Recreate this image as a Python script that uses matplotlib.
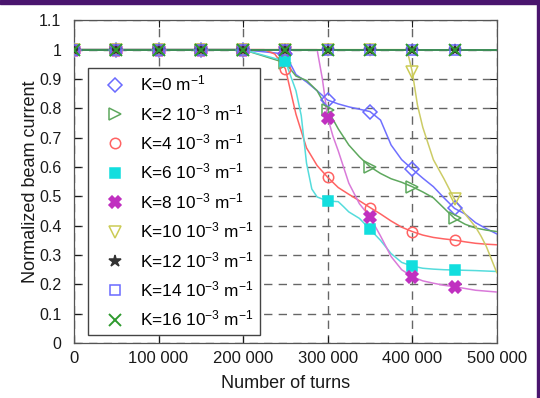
import numpy as np
import matplotlib.pyplot as plt
from matplotlib.patches import Rectangle
from matplotlib.ticker import FixedLocator, FuncFormatter

plt.rcParams['font.family'] = ['Liberation Sans', 'DejaVu Sans']
plt.rcParams['mathtext.default'] = 'regular'

# beam current vs turns for each coupling strength K
x_k0 = [0, 50000, 100000, 150000, 200000, 250000, 262500, 275000, 287500, 300000,
        312500, 325000, 337500, 350000, 362500, 375000, 387500, 400000, 412500,
        425000, 437500, 450000, 462500, 475000, 487500, 500000]
y_k0 = [1.0, 1.0, 1.0, 1.0, 1.0, 0.985, 0.915, 0.89, 0.86, 0.828,
        0.815, 0.805, 0.797, 0.789, 0.76, 0.675, 0.625, 0.593, 0.562,
        0.533, 0.495, 0.459, 0.44, 0.41, 0.39, 0.372]

x_k2 = [0, 50000, 100000, 150000, 200000, 250000, 262500, 275000, 287500, 300000,
        312500, 325000, 337500, 350000, 362500, 375000, 387500, 400000, 412500,
        425000, 437500, 450000, 462500, 475000, 487500, 500000]
y_k2 = [1.0, 1.0, 1.0, 1.0, 1.0, 0.955, 0.91, 0.895, 0.86, 0.795,
        0.73, 0.675, 0.635, 0.601, 0.578, 0.56, 0.548, 0.533, 0.515,
        0.495, 0.46, 0.425, 0.405, 0.392, 0.385, 0.38]

x_k4 = [0, 50000, 100000, 150000, 200000, 225000, 237500, 250000, 262500, 275000,
        287500, 300000, 312500, 325000, 337500, 350000, 362500, 375000, 387500,
        400000, 412500, 425000, 437500, 450000, 462500, 475000, 487500, 500000]
y_k4 = [1.0, 1.0, 1.0, 1.0, 1.0, 1.0, 0.985, 0.935, 0.78, 0.665,
        0.605, 0.565, 0.53, 0.507, 0.485, 0.462, 0.44, 0.416, 0.395,
        0.38, 0.368, 0.36, 0.355, 0.351, 0.345, 0.34, 0.337, 0.335]

x_k6 = [0, 50000, 100000, 150000, 200000, 250000, 256250, 262500, 268750, 275000,
        281250, 287500, 300000, 312500, 318750, 325000, 337500, 350000, 362500,
        375000, 387500, 400000, 412500, 425000, 437500, 450000, 475000, 500000]
y_k6 = [1.0, 1.0, 1.0, 1.0, 1.0, 0.96, 0.91, 0.86, 0.775, 0.613,
        0.525, 0.498, 0.484, 0.482, 0.465, 0.447, 0.425, 0.388, 0.35,
        0.305, 0.275, 0.262, 0.255, 0.252, 0.25, 0.249, 0.247, 0.244]

x_k8 = [0, 50000, 100000, 150000, 200000, 250000, 287500, 293750, 300000, 306250,
        312500, 318750, 325000, 337500, 350000, 362500, 375000, 387500, 400000,
        412500, 425000, 437500, 450000, 462500, 475000, 487500, 500000]
y_k8 = [1.0, 1.0, 1.0, 1.0, 1.0, 1.0, 1.0, 0.9, 0.768, 0.705,
        0.655, 0.6, 0.545, 0.475, 0.43, 0.365, 0.295, 0.25, 0.226,
        0.212, 0.204, 0.197, 0.192, 0.186, 0.18, 0.177, 0.174]

x_k10 = [0, 50000, 100000, 150000, 200000, 250000, 300000, 350000, 393750, 400000,
         406250, 412500, 418750, 425000, 437500, 450000, 462500, 475000, 481250,
         487500, 493750, 500000]
y_k10 = [1.0, 1.0, 1.0, 1.0, 1.0, 1.0, 1.0, 1.0, 1.0, 0.925,
         0.81, 0.735, 0.68, 0.625, 0.56, 0.49, 0.44, 0.395, 0.365,
         0.33, 0.285, 0.24]

x_flat = [0, 50000, 100000, 150000, 200000, 250000, 300000, 350000, 400000, 450000, 500000]
y_k12 = [1.0, 1.0, 1.0, 1.0, 1.0, 1.0, 1.0, 1.0, 1.0, 1.0, 1.0]
y_k14 = [1.0, 1.0, 1.0, 1.0, 1.0, 1.0, 1.0, 1.0, 1.0, 1.0, 1.0]
y_k16 = [1.0, 1.0, 1.0, 1.0, 1.0, 1.0, 1.0, 1.0, 1.0, 1.0, 1.0]

labels = ['K=0 m$^{-1}$', 'K=2 10$^{-3}$ m$^{-1}$', 'K=4 10$^{-3}$ m$^{-1}$',
          'K=6 10$^{-3}$ m$^{-1}$', 'K=8 10$^{-3}$ m$^{-1}$', 'K=10 10$^{-3}$ m$^{-1}$',
          'K=12 10$^{-3}$ m$^{-1}$', 'K=14 10$^{-3}$ m$^{-1}$', 'K=16 10$^{-3}$ m$^{-1}$']

# (x, y, line colour, marker, marker colour, filled, marker size)
series = [
    (x_k0, y_k0, '#7070ff', 'D', '#6a6aff', False, 7),
    (x_k2, y_k2, '#5ea85e', '>', '#5ea85e', False, 8),
    (x_k4, y_k4, '#ff6363', 'o', '#ff6363', False, 7.5),
    (x_k6, y_k6, '#55dcdc', 's', '#12dede', True, 7.5),
    (x_k8, y_k8, '#d97ad9', 'X', '#c030c0', True, 9),
    (x_k10, y_k10, '#cccc66', 'v', '#cccc55', False, 8),
    (x_flat, y_k12, '#333333', '*', '#333333', True, 9),
    (x_flat, y_k14, '#7070ff', 's', '#6a6aff', False, 7),
    (x_flat, y_k16, '#339933', 'x', '#2e9a2e', False, 9),
]

fig = plt.figure(figsize=(5.40, 3.98), dpi=100)
ax = fig.add_axes([0.137, 0.138, 0.783, 0.811])

handles = []
for (xs, ys, lc, mk, mc, filled, ms), lab in zip(series, labels):
    xs = np.asarray(xs)
    ys = np.asarray(ys)
    ax.plot(xs, ys, color=lc, lw=1.1, zorder=3)
    sel = (xs % 50000 == 0) & (xs < 500000)
    fc = mc if filled else 'none'
    h, = ax.plot(xs[sel], ys[sel], ls='none', marker=mk, ms=ms,
                 mfc=fc, mec=mc, mew=1.1 if mk != 'x' else 1.4,
                 zorder=4, label=lab)
    handles.append(h)

ax.set_xlim(0, 500000)
ax.set_ylim(0, 1.1)
ax.xaxis.set_major_locator(FixedLocator([0, 100000, 200000, 300000, 400000, 500000]))
ax.yaxis.set_major_locator(FixedLocator(np.round(np.arange(0, 1.15, 0.1), 1)))
ax.xaxis.set_major_formatter(FuncFormatter(
    lambda v, p: '0' if v == 0 else '{:,}'.format(int(v)).replace(',', ' ')))
ax.yaxis.set_major_formatter(FuncFormatter(lambda v, p: '{:g}'.format(round(v, 1))))
ax.tick_params(direction='in', top=True, right=True, length=5, width=0.8,
               labelsize=12, colors='#1a1a1a', pad=6)
ax.tick_params(axis='y', labelsize=11.5, pad=9)

ax.grid(True, color='#666666', ls=(0, (6, 4.5)), lw=1.0, zorder=1)
for s in ax.spines.values():
    s.set_color('#555555')
    s.set_linewidth(0.9)

ax.set_xlabel('Number of turns', fontsize=13, color='#1a1a1a', labelpad=6)
ax.set_ylabel('Normalized beam current', fontsize=13, color='#1a1a1a', labelpad=0)

leg = ax.legend(handles=handles, loc='upper left', bbox_to_anchor=(0.033, 0.853),
                fontsize=12.4, frameon=True, fancybox=False, framealpha=1,
                edgecolor='#444444', borderpad=0.35, labelspacing=0.55,
                handlelength=2.45, handletextpad=0.25, borderaxespad=0)
leg.get_frame().set_linewidth(1.0)
leg.set_zorder(5)

# slide border strips
fig.patches.append(Rectangle((0, 0.99), 1, 0.01, transform=fig.transFigure,
                             color='#4a156e', zorder=10))
fig.patches.append(Rectangle((0.994, 0), 0.006, 1, transform=fig.transFigure,
                             color='#4a156e', zorder=10))

fig.savefig('out.png', dpi=100)
